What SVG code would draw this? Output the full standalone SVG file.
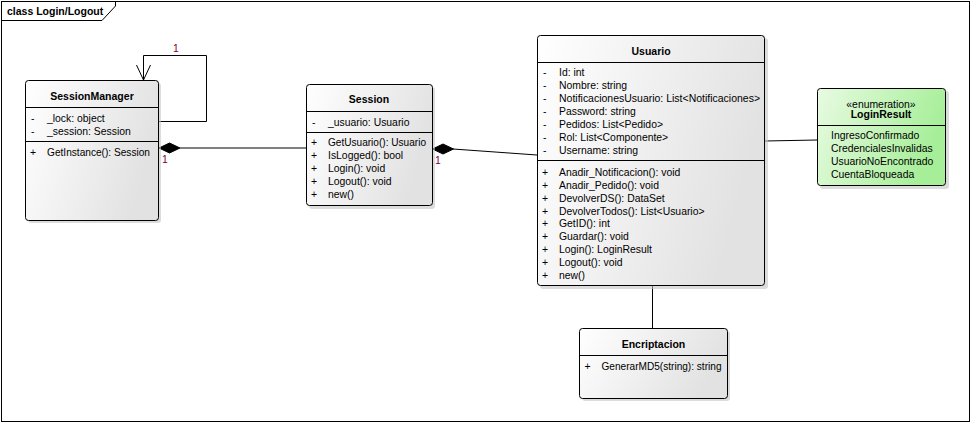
<svg xmlns="http://www.w3.org/2000/svg" width="971" height="423" viewBox="0 0 971 423">
<defs>
<linearGradient id="gGray" x1="0" y1="0" x2="1" y2="0.3">
<stop offset="0" stop-color="#ffffff"/>
<stop offset="1" stop-color="#e2e2e2"/>
</linearGradient>
<linearGradient id="gGreen" x1="0" y1="0" x2="1" y2="0.3">
<stop offset="0" stop-color="#e8fbe2"/>
<stop offset="1" stop-color="#a6ee98"/>
</linearGradient>
</defs>
<style>
text{font-family:"Liberation Sans",Arial,sans-serif;font-size:10.4px;fill:#000}
.t{font-weight:bold;text-anchor:middle;font-size:10.5px}
.c{text-anchor:middle}
.box{fill:url(#gGray);stroke:#000;stroke-width:1}
.enum{fill:url(#gGreen);stroke:#000;stroke-width:1}
.sh{fill:#c4c4c4;opacity:0.6}
.sep{stroke:#000;stroke-width:1}
.ln{stroke:#000;stroke-width:1;fill:none}
.m{fill:#800040}
</style>
<rect x="0" y="0" width="971" height="423" fill="#ffffff"/>
<rect x="1.5" y="1.5" width="968" height="420" fill="none" stroke="#000"/>
<path d="M1.5,20.5 H102 L115.5,6 V1.5" fill="none" stroke="#000"/>
<text x="7" y="14.5" style="font-weight:bold;font-size:10.5px">class Login/Logout</text>

<g id="connectors">
<polyline class="ln" points="158.5,121.5 206.5,121.5 206.5,55.5 143.5,55.5 143.5,80"/>
<polyline class="ln" points="136.5,65 143.5,80 150.5,65"/>
<text class="m" x="173" y="52">1</text>
<line class="ln" x1="180" y1="148" x2="306" y2="148"/>
<polygon points="159,148 169.5,143 180,148 169.5,153" fill="#000" stroke="#000"/>
<text class="m" x="162" y="163">1</text>
<line class="ln" x1="453" y1="149" x2="537" y2="155"/>
<polygon points="432.5,149 443,144 453.5,149 443,154" fill="#000" stroke="#000"/>
<text class="m" x="435" y="164">1</text>
<line class="ln" x1="765" y1="141" x2="817" y2="140"/>
<line class="ln" x1="652.5" y1="286" x2="652.5" y2="328"/>
</g>

<g id="SessionManager">
<rect class="sh" x="28" y="83" width="133" height="140" rx="3"/>
<rect class="box" x="25.5" y="80.5" width="133" height="140" rx="3"/>
<text class="t" x="92" y="100">SessionManager</text>
<line class="sep" x1="25.5" y1="107.5" x2="158.5" y2="107.5"/>
<text x="31" y="121.5">-</text><text x="47" y="121.5">_lock: object</text>
<text x="31" y="134.5">-</text><text x="47" y="134.5">_session: Session</text>
<line class="sep" x1="25.5" y1="141.5" x2="158.5" y2="141.5"/>
<text x="30" y="155.5">+</text><text x="47" y="155.5" textLength="103" lengthAdjust="spacingAndGlyphs">GetInstance(): Session</text>
</g>

<g id="Session">
<rect class="sh" x="309" y="87" width="126" height="122" rx="3"/>
<rect class="box" x="306.5" y="84.5" width="126" height="121" rx="3"/>
<text class="t" x="369" y="103">Session</text>
<line class="sep" x1="306.5" y1="111.5" x2="432.5" y2="111.5"/>
<text x="312" y="126">-</text><text x="328" y="126">_usuario: Usuario</text>
<line class="sep" x1="306.5" y1="132.5" x2="432.5" y2="132.5"/>
<text x="311" y="146.4">+</text><text x="328" y="146.4" textLength="98" lengthAdjust="spacingAndGlyphs">GetUsuario(): Usuario</text>
<text x="311" y="159.4">+</text><text x="328" y="159.4">IsLogged(): bool</text>
<text x="311" y="172.4">+</text><text x="328" y="172.4">Login(): void</text>
<text x="311" y="185.4">+</text><text x="328" y="185.4">Logout(): void</text>
<text x="311" y="198.4">+</text><text x="328" y="198.4">new()</text>
</g>

<g id="Usuario">
<rect class="sh" x="540" y="38" width="228" height="251" rx="3"/>
<rect class="box" x="537.5" y="35.5" width="227" height="250" rx="3"/>
<text class="t" x="651" y="54.5">Usuario</text>
<line class="sep" x1="537.5" y1="62.5" x2="764.5" y2="62.5"/>
<text x="543" y="76.4">-</text><text x="559" y="76.4">Id: int</text>
<text x="543" y="89.3">-</text><text x="559" y="89.3">Nombre: string</text>
<text x="543" y="102.2">-</text><text x="559" y="102.2" textLength="201" lengthAdjust="spacingAndGlyphs">NotificacionesUsuario: List&lt;Notificaciones&gt;</text>
<text x="543" y="115.1">-</text><text x="559" y="115.1">Password: string</text>
<text x="543" y="128">-</text><text x="559" y="128">Pedidos: List&lt;Pedido&gt;</text>
<text x="543" y="140.9">-</text><text x="559" y="140.9">Rol: List&lt;Componente&gt;</text>
<text x="543" y="153.8">-</text><text x="559" y="153.8">Username: string</text>
<line class="sep" x1="537.5" y1="160.5" x2="764.5" y2="160.5"/>
<text x="542" y="176">+</text><text x="559" y="176">Anadir_Notificacion(): void</text>
<text x="542" y="188.9">+</text><text x="559" y="188.9">Anadir_Pedido(): void</text>
<text x="542" y="201.7">+</text><text x="559" y="201.7">DevolverDS(): DataSet</text>
<text x="542" y="214.6">+</text><text x="559" y="214.6">DevolverTodos(): List&lt;Usuario&gt;</text>
<text x="542" y="227.4">+</text><text x="559" y="227.4">GetID(): int</text>
<text x="542" y="240.3">+</text><text x="559" y="240.3">Guardar(): void</text>
<text x="542" y="253.1">+</text><text x="559" y="253.1">Login(): LoginResult</text>
<text x="542" y="266">+</text><text x="559" y="266">Logout(): void</text>
<text x="542" y="278.8">+</text><text x="559" y="278.8">new()</text>
</g>

<g id="LoginResult">
<rect class="sh" x="820" y="91" width="129" height="98" rx="3"/>
<rect class="enum" x="817.5" y="88.5" width="128" height="97" rx="3"/>
<text class="c" x="881" y="107.5">«enumeration»</text>
<text class="t" x="881" y="118">LoginResult</text>
<line class="sep" x1="817.5" y1="125.5" x2="945.5" y2="125.5"/>
<text x="831" y="138.5">IngresoConfirmado</text>
<text x="831" y="151.5">CredencialesInvalidas</text>
<text x="831" y="164.5">UsuarioNoEncontrado</text>
<text x="831" y="177.5">CuentaBloqueada</text>
</g>

<g id="Encriptacion">
<rect class="sh" x="582" y="331" width="148" height="70" rx="3"/>
<rect class="box" x="579.5" y="328.5" width="148" height="70" rx="3"/>
<text class="t" x="653.5" y="348">Encriptacion</text>
<line class="sep" x1="579.5" y1="355.5" x2="727.5" y2="355.5"/>
<text x="584.5" y="369.5">+</text><text x="601.5" y="369.5" textLength="120" lengthAdjust="spacingAndGlyphs">GenerarMD5(string): string</text>
</g>
</svg>
